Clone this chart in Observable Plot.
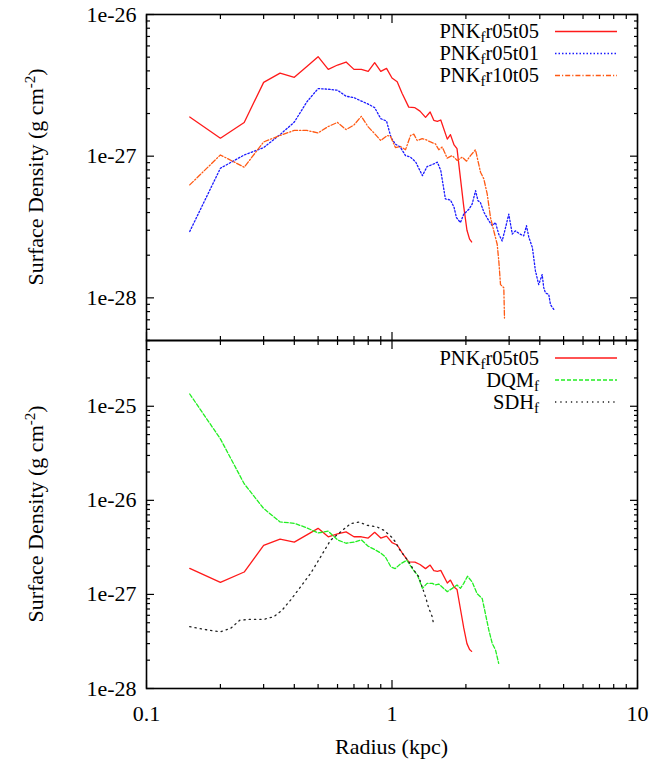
<!DOCTYPE html>
<html><head><meta charset="utf-8">
<script src="https://cdn.jsdelivr.net/npm/d3@7"></script>
<script src="https://cdn.jsdelivr.net/npm/@observablehq/plot@0.6"></script>
<style>
html,body{margin:0;padding:0;background:#fff;}
#chart{position:relative;width:663px;height:759px;}
#chart svg{display:block;}
</style></head><body><div id="chart"></div>
<script>
// ---- data (radius in kpc, surface density in g cm^-2) ----
const pnkR05T05_r = [0.15,0.2,0.25,0.3,0.35,0.4,0.45,0.5,0.55,0.6,0.65,0.7,0.75,0.8,0.85,0.9,0.95,1.0,1.05,1.1,1.17,1.24,1.3,1.37,1.43,1.48,1.53,1.58,1.68,1.73,1.79,1.84,1.9,1.96,2.02,2.07,2.11];
const pnkR05T05_v = [1.89e-27,1.34e-27,1.73e-27,3.32e-27,3.86e-27,3.6e-27,4.3e-27,5.04e-27,4.1e-27,4.4e-27,4.62e-27,4.1e-27,4.1e-27,3.97e-27,4.57e-27,3.97e-27,4.17e-27,3.56e-27,3.35e-27,2.77e-27,2.22e-27,2.2e-27,2.08e-27,1.88e-27,2.05e-27,1.79e-27,1.76e-27,1.8e-27,1.32e-27,1.42e-27,1.2e-27,1.13e-27,7.0e-28,4.4e-28,3.0e-28,2.6e-28,2.48e-28];

const pnkR05T01_r = [0.15,0.2,0.25,0.3,0.35,0.4,0.45,0.5,0.55,0.6,0.65,0.7,0.75,0.8,0.85,0.9,0.95,0.99,1.03,1.08,1.135,1.19,1.25,1.33,1.39,1.46,1.53,1.58,1.65,1.73,1.79,1.83,1.9,1.96,2.06,2.12,2.19,2.24,2.29,2.37,2.48,2.56,2.64,2.72,2.81,2.9,2.99,3.09,3.18,3.32,3.44,3.53,3.61,3.73,3.84,3.96,4.09,4.15,4.22,4.35,4.42,4.56];
const pnkR05T01_v = [2.94e-28,8.22e-28,1.02e-27,1.15e-27,1.42e-27,1.74e-27,2.42e-27,3.0e-27,2.97e-27,2.92e-27,2.65e-27,2.59e-27,2.45e-27,2.33e-27,2.2e-27,1.84e-27,1.77e-27,1.36e-27,1.22e-27,1.16e-27,1.01e-27,9.84e-28,9.07e-28,7.29e-28,8.45e-28,8.73e-28,9.07e-28,7.92e-28,4.99e-28,4.91e-28,4.35e-28,3.69e-28,3.4e-28,3.9e-28,4.23e-28,4.59e-28,5.71e-28,4.85e-28,4.72e-28,4.01e-28,3.5e-28,3.23e-28,3.4e-28,2.82e-28,2.52e-28,3.13e-28,3.9e-28,2.82e-28,2.97e-28,2.82e-28,2.74e-28,3.23e-28,2.67e-28,2.27e-28,1.55e-28,1.24e-28,1.46e-28,1.18e-28,1.08e-28,1.06e-28,8.98e-29,8.28e-29];

const pnkR10T05_r = [0.15,0.2,0.25,0.3,0.35,0.4,0.45,0.5,0.55,0.6,0.65,0.7,0.75,0.8,0.85,0.9,0.956,0.986,1.033,1.083,1.135,1.19,1.227,1.267,1.327,1.369,1.435,1.504,1.551,1.602,1.678,1.759,1.844,1.932,2.012,2.088,2.188,2.294,2.366,2.442,2.519,2.598,2.682,2.723,2.767,2.854,2.872];
const pnkR10T05_v = [6.27e-28,1.02e-27,8.36e-28,1.26e-27,1.4e-27,1.52e-27,1.52e-27,1.46e-27,1.62e-27,1.73e-27,1.54e-27,1.66e-27,1.91e-27,1.61e-27,1.44e-27,1.29e-27,1.4e-27,1.38e-27,1.15e-27,1.17e-27,1.11e-27,1.4e-27,1.43e-27,1.29e-27,1.33e-27,1.31e-27,1.26e-27,1.22e-27,1.11e-27,1.16e-27,9.68e-28,1.01e-27,9.33e-28,9.84e-28,9.22e-28,1.01e-27,1.11e-27,7.7e-28,6.92e-28,5.41e-28,3.69e-28,2.97e-28,2.39e-28,1.82e-28,1.24e-28,1.18e-28,7.2e-29];

const dqm_r = [0.15,0.2,0.25,0.3,0.35,0.4,0.45,0.5,0.55,0.6,0.65,0.7,0.75,0.8,0.85,0.9,0.94,0.99,1.03,1.08,1.15,1.21,1.27,1.33,1.39,1.46,1.5,1.55,1.6,1.68,1.76,1.84,1.9,1.96,2.03,2.12,2.22,2.33,2.4,2.48,2.56,2.64,2.72];
const dqm_v = [1.35e-25,4.5e-26,1.5e-26,8.2e-27,5.9e-27,5.7e-27,5.1e-27,4.5e-27,4.7e-27,3.8e-27,3.5e-27,3.6e-27,3.8e-27,3.25e-27,3.0e-27,2.75e-27,2.5e-27,1.96e-27,1.88e-27,2.1e-27,2.31e-27,1.88e-27,1.6e-27,1.16e-27,1.31e-27,1.31e-27,1.26e-27,1.29e-27,1.2e-27,1.07e-27,1.16e-27,1.26e-27,1.16e-27,1.31e-27,1.56e-27,1.36e-27,1.02e-27,9.06e-28,6.3e-28,4.18e-28,3.02e-28,2.57e-28,1.85e-28];

const sdh_r = [0.15,0.185,0.2,0.22,0.24,0.265,0.3,0.33,0.357,0.386,0.424,0.466,0.512,0.562,0.617,0.678,0.732,0.793,0.87,0.926,0.995,1.033,1.066,1.117,1.171,1.227,1.286,1.327,1.369,1.413,1.458,1.48];
const sdh_v = [4.54e-28,4.11e-28,4.01e-28,4.35e-28,5.33e-28,5.43e-28,5.43e-28,5.79e-28,6.82e-28,8.71e-28,1.2e-27,1.67e-27,2.51e-27,3.77e-27,4.61e-27,5.66e-27,5.88e-27,5.43e-27,5.21e-27,4.81e-27,4.08e-27,3.61e-27,3.08e-27,2.61e-27,2.22e-27,1.81e-27,1.54e-27,1.2e-27,9.44e-28,7.1e-28,5.79e-28,4.72e-28];

// ---- axes ----
const xDomain = [0.1, 10];
const xMajor = [0.1, 1, 10];
const xLabels = ["0.1", "1", "10"];
const yDomainTop = [5e-29, 1e-26];
const yMajorTop = [1e-28, 1e-27, 1e-26];
const yLabelsTop = ["1e-28", "1e-27", "1e-26"];
const yDomainBottom = [1e-28, 5e-25];
const yMajorBottom = [1e-28, 1e-27, 1e-26, 1e-25];
const yLabelsBottom = ["1e-28", "1e-27", "1e-26", "1e-25"];
const yTitle = "Surface Density (g cm";
const xTitle = "Radius (kpc)";

const FONT = '"Liberation Serif", "Times New Roman", Times, serif';
const W = 663, ML = 146, MR = 26;

function table(r, v) { return r.map((d, i) => ({r: d, v: v[i]})); }
function minorTicks(domain) {
  const out = [];
  const e0 = Math.floor(Math.log10(domain[0])), e1 = Math.ceil(Math.log10(domain[1]));
  for (let e = e0; e <= e1; e++) for (let k = 2; k <= 9; k++) {
    const t = k * Math.pow(10, e);
    if (t >= domain[0] * 0.999 && t <= domain[1] * 1.001) out.push(t);
  }
  return out;
}

const S_red = {pre: "PNK", post: "r05t05", data: table(pnkR05T05_r, pnkR05T05_v), color: "#ff1a1a", dash: null};
const S_blue = {pre: "PNK", post: "r05t01", data: table(pnkR05T01_r, pnkR05T01_v), color: "#1a1aff", dash: "1.5,2"};
const S_orange = {pre: "PNK", post: "r10t05", data: table(pnkR10T05_r, pnkR10T05_v), color: "#ff5a14", dash: "5,2,1.2,2"};
const S_green = {pre: "DQM", post: "", data: table(dqm_r, dqm_v), color: "#22ee22", dash: "4,2"};
const S_black = {pre: "SDH", post: "", data: table(sdh_r, sdh_v), color: "#222", dash: "1.3,4"};

function panel({height, marginTop, marginBottom, yDomain, yMajor, yLabels, series, showX}) {
  const yMinor = minorTicks(yDomain);
  const xMinor = minorTicks(xDomain);
  const tk = (fn, ticks, anchor, size) => fn(ticks, {anchor, tickSize: -size, fill: "none", label: null, strokeWidth: 1.2});
  const marks = [
    ...series.map(s => Plot.line(s.data, {x: "r", y: "v", stroke: s.color, strokeWidth: 1.3, strokeDasharray: s.dash})),
    tk(Plot.axisY, yMajor, "left", 8), tk(Plot.axisY, yMajor, "right", 8),
    tk(Plot.axisY, yMinor, "left", 4), tk(Plot.axisY, yMinor, "right", 4),
    tk(Plot.axisX, xMajor, "top", 8), tk(Plot.axisX, xMajor, "bottom", 8),
    tk(Plot.axisX, xMinor, "top", 4), tk(Plot.axisX, xMinor, "bottom", 4),
    Plot.axisY(yMajor, {anchor: "left", tickSize: 0, tickPadding: 10, label: null,
      tickFormat: d => yLabels[yMajor.indexOf(d)]}),
    Plot.frame({stroke: "#000", strokeWidth: 1.6})
  ];
  if (showX) marks.push(Plot.axisX(xMajor, {anchor: "bottom", tickSize: 0, tickPadding: 17, label: null,
      tickFormat: d => xLabels[xMajor.indexOf(d)]}));
  return Plot.plot({
    width: W, height, marginLeft: ML, marginRight: MR, marginTop, marginBottom,
    style: {fontFamily: FONT, fontSize: "22px", background: "white", overflow: "visible", color: "#000"},
    x: {type: "log", domain: xDomain},
    y: {type: "log", domain: yDomain},
    marks
  });
}

function addYTitle(svg, cy) {
  const t = d3.select(svg).append("text")
    .attr("transform", `translate(43,${cy}) rotate(-90)`)
    .attr("text-anchor", "middle").attr("fill", "#000").attr("font-size", 22);
  t.append("tspan").text(yTitle);
  t.append("tspan").attr("dy", -8).attr("font-size", 15).text("-2");
  t.append("tspan").attr("dy", 8).text(")");
}

function addLegend(svg, series, rowsY) {
  const g = d3.select(svg).append("g");
  series.forEach((s, i) => {
    const y = rowsY[i];
    const t = g.append("text").attr("x", 539).attr("y", y).attr("dy", "0.33em")
      .attr("text-anchor", "end").attr("fill", "#000").attr("font-size", 20.5);
    t.append("tspan").text(s.pre);
    t.append("tspan").attr("dy", 4).attr("font-size", 15).text("f");
    if (s.post) t.append("tspan").attr("dy", -4).text(s.post);
    g.append("line").attr("x1", 555).attr("x2", 617).attr("y1", y).attr("y2", y)
      .attr("stroke", s.color).attr("stroke-width", 1.3)
      .attr("stroke-dasharray", s.dash);
  });
}

const topPanel = panel({height: 340, marginTop: 14, marginBottom: 0, yDomain: yDomainTop, yMajor: yMajorTop,
  yLabels: yLabelsTop, series: [S_red, S_blue, S_orange], showX: false});
addYTitle(topPanel, 177);
addLegend(topPanel, [S_red, S_blue, S_orange], [31.5, 53.5, 75.5]);

const bottomPanel = panel({height: 419, marginTop: 0, marginBottom: 71, yDomain: yDomainBottom, yMajor: yMajorBottom,
  yLabels: yLabelsBottom, series: [S_red, S_green, S_black], showX: true});
addYTitle(bottomPanel, 174);
addLegend(bottomPanel, [S_red, S_green, S_black], [18, 40, 62]);
d3.select(bottomPanel).append("text").attr("x", (ML + W - MR) / 2).attr("y", 406)
  .attr("dy", "0.35em").attr("text-anchor", "middle").attr("fill", "#000").attr("font-size", 22).text(xTitle);

const chart = document.getElementById("chart");
chart.appendChild(topPanel);
chart.appendChild(bottomPanel);
</script></body></html>
